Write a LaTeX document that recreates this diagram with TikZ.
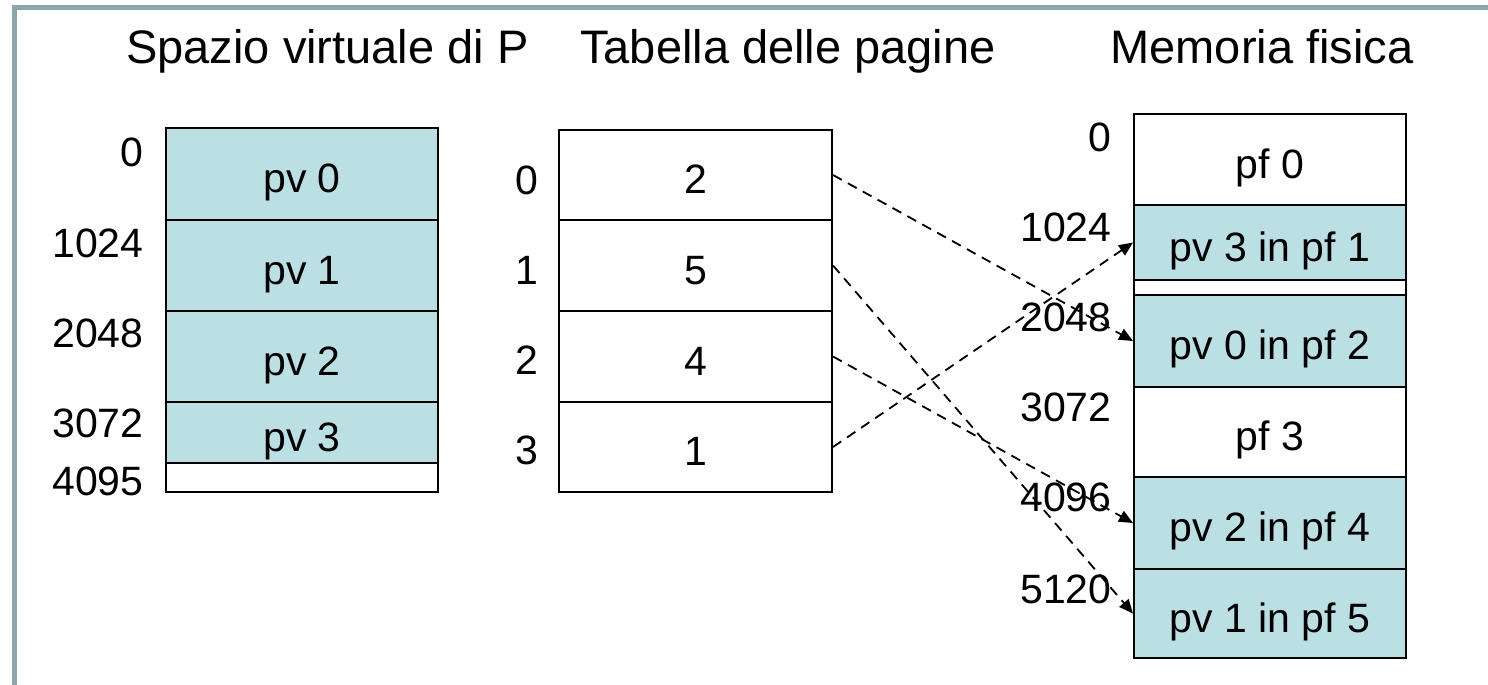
\documentclass[tikz,border=0pt]{standalone}
\usepackage{fontspec}
\setmainfont{Liberation Sans}
\usetikzlibrary{arrows.meta}
\definecolor{pagefill}{RGB}{187,224,227}
\definecolor{slideframe}{RGB}{139,167,171}
\tikzset{
  cell/.style={draw, line width=1pt, minimum width=136pt, inner sep=0pt, anchor=north west,
    font=\fontsize{20.5}{24}\selectfont, text height=18.7pt, text depth=0pt},
  used/.style={cell, fill=pagefill},
  addr/.style={anchor=east, inner sep=0pt, font=\fontsize{20.5}{24}\selectfont},
  heading/.style={anchor=base, inner sep=0pt, font=\fontsize{23.5}{28}\selectfont},
  map/.style={dash pattern=on 5pt off 3.5pt, line width=0.9pt, -{Triangle[length=7pt,width=6pt]}}
}
\begin{document}
\begin{tikzpicture}[x=0.5pt, y=-0.5pt]
	\useasboundingbox (0,0) rectangle (1488,685);
	\draw[slideframe, line width=2.5pt] (14.5,685) -- (14.5,7.5) -- (1488,7.5);
	\node[heading] (tvirt) at (327.5,63) {Spazio virtuale di P};
	\node[heading] (ttab) at (788,63) {Tabella delle pagine};
	\node[heading] (tmem) at (1262,63) {Memoria fisica};
	\node[used, minimum height=46pt] (v0) at (165,127) {pv 0};
	\node[used, minimum height=45.5pt] (v1) at (165,219) {pv 1};
	\node[used, minimum height=45.5pt] (v2) at (165,310) {pv 2};
	\node[used, minimum height=30.5pt] (v3) at (165,401) {pv 3};
	\node[cell, minimum height=14.5pt, text height=0pt] (vend) at (165,462) {};
	\node[addr] (a0) at (144,152) {0};
	\node[addr] (a1) at (144,243) {1024};
	\node[addr] (a2) at (144,333) {2048};
	\node[addr] (a3) at (144,423) {3072};
	\node[addr] (a4) at (144,481) {4095};
	\node[cell, minimum width=136.5pt, minimum height=45pt] (t0) at (558,129) {2};
	\node[cell, minimum width=136.5pt, minimum height=45.5pt] (t1) at (558,219) {5};
	\node[cell, minimum width=136.5pt, minimum height=45.5pt] (t2) at (558,310) {4};
	\node[cell, minimum width=136.5pt, minimum height=45pt] (t3) at (558,401) {1};
	\node[addr] (i0) at (539,180) {0};
	\node[addr] (i1) at (539,270) {1};
	\node[addr] (i2) at (539,360) {2};
	\node[addr] (i3) at (539,450) {3};
	\node[cell, minimum height=272pt] (mem) at (1133,113) {};
	\node[cell, minimum height=45.5pt] (f0) at (1133,113) {pf 0};
	\node[used, minimum height=37.5pt] (f1) at (1133,204) {pv 3 in pf 1};
	\node[used, minimum height=46pt] (f2) at (1133,294) {pv 0 in pf 2};
	\node[cell, minimum height=45pt] (f3) at (1133,386) {pf 3};
	\node[used, minimum height=46pt] (f4) at (1133,476) {pv 2 in pf 4};
	\node[used, minimum height=44.5pt] (f5) at (1133,568) {pv 1 in pf 5};
	\node[addr] (m0) at (1112,137) {0};
	\node[addr] (m1) at (1112,227) {1024};
	\node[addr] (m2) at (1112,317) {2048};
	\node[addr] (m3) at (1112,407) {3072};
	\node[addr] (m4) at (1112,497) {4096};
	\node[addr] (m5) at (1112,589) {5120};
	\draw[map] (t0.east) -- (f2.west);
	\draw[map] (t1.east) -- (f5.west);
	\draw[map] (t2.east) -- (f4.west);
	\draw[map] (t3.east) -- (f1.west);
\end{tikzpicture}
\end{document}
